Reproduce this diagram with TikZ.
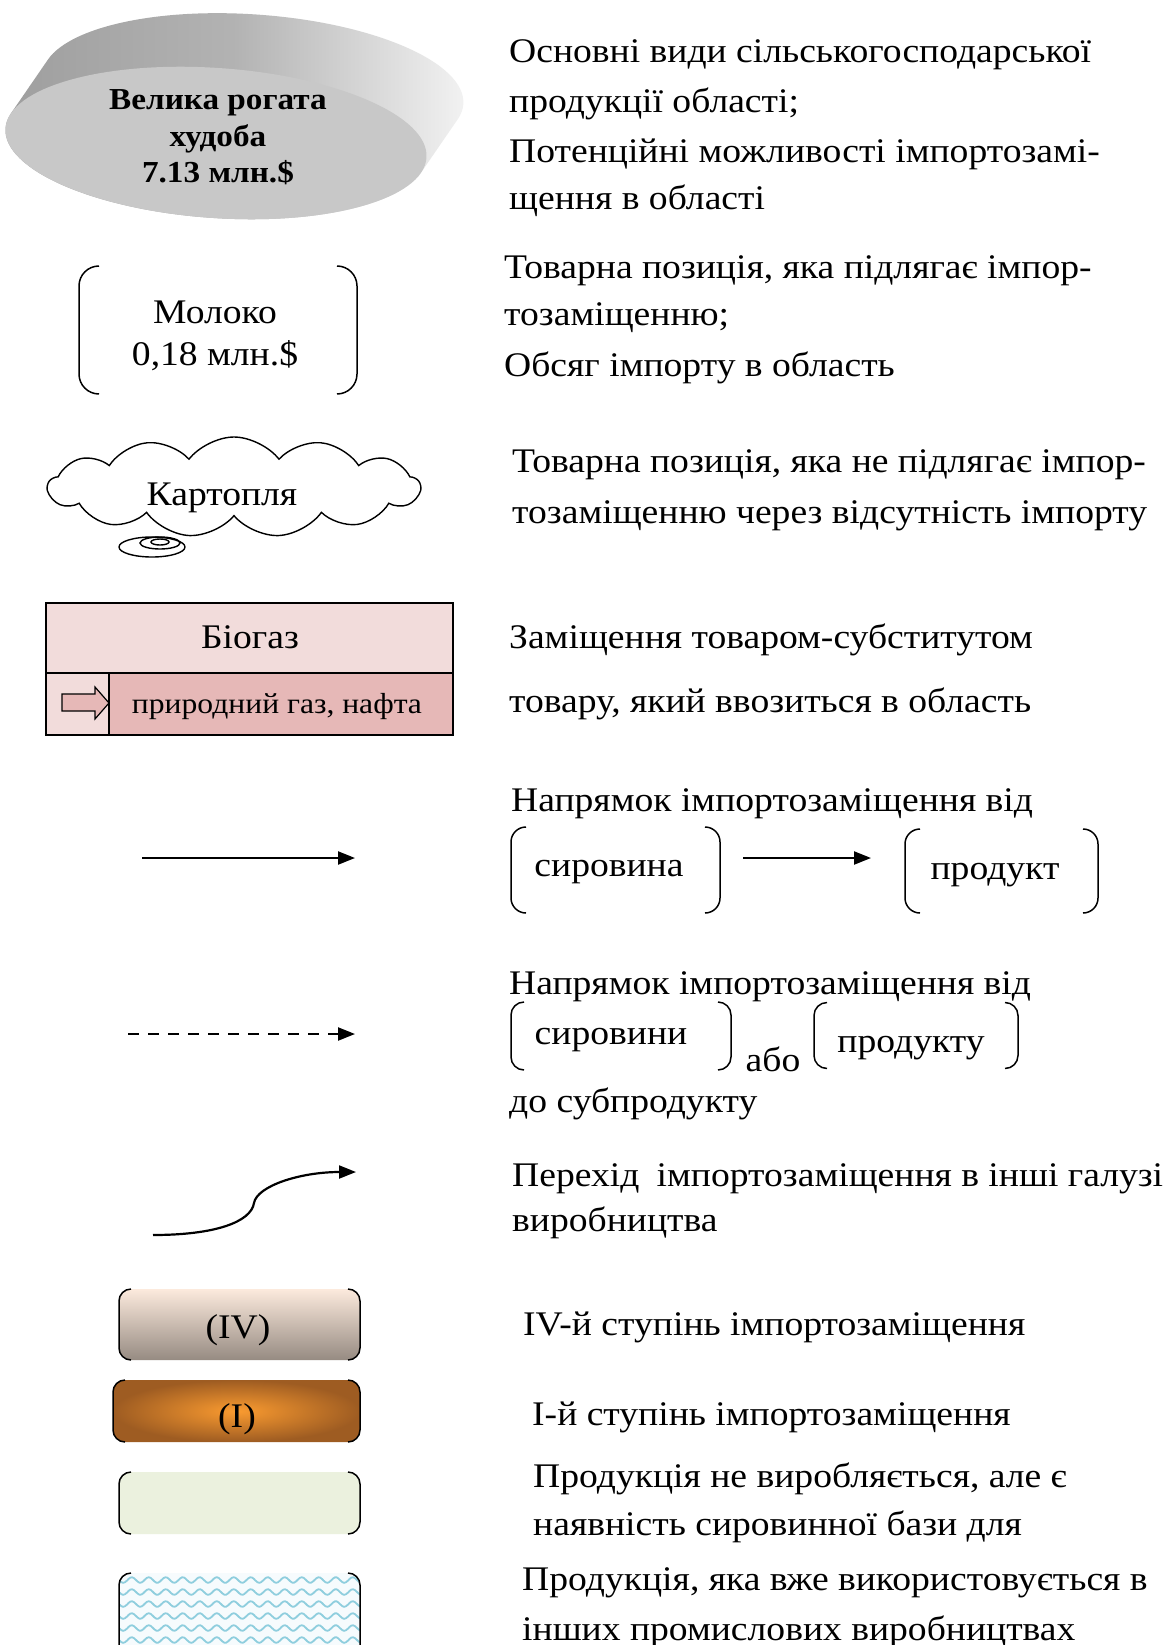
\documentclass[tikz,border=0pt]{standalone}
\usepackage{fontspec}
\setmainfont{Liberation Serif}[FakeStretch=1.09]
\usetikzlibrary{arrows.meta,shapes.symbols,calc}
\definecolor{discfront}{RGB}{200,200,200}
\definecolor{biotop}{RGB}{242,220,219}
\definecolor{biobot}{RGB}{230,184,183}
\definecolor{ivtop}{RGB}{252,234,221}
\definecolor{ivbot}{RGB}{150,139,130}
\definecolor{iin}{RGB}{250,155,48}
\definecolor{iout}{RGB}{158,92,34}
\definecolor{greenfill}{RGB}{235,241,222}
\definecolor{wavebg}{RGB}{246,251,253}
\definecolor{waveline}{RGB}{143,206,222}
\newcommand\bpair[2]{%
  \draw[bk, rounded corners=#2] ([xshift=#2]#1.north west) -- (#1.north west) -- (#1.south west) -- ([xshift=#2]#1.south west);
  \draw[bk, rounded corners=#2] ([xshift=-#2]#1.north east) -- (#1.north east) -- (#1.south east) -- ([xshift=-#2]#1.south east);}
\begin{document}
\begin{tikzpicture}[x=1pt,y=-1pt,
  txt/.style={anchor=base west, inner sep=0pt, font=\fontsize{34.5}{40}\selectfont},
  ctxt/.style={anchor=base, inner sep=0pt, font=\fontsize{34.5}{40}\selectfont},
  btxt/.style={anchor=base, inner sep=0pt, font=\fontsize{30.5}{37}\selectfont\bfseries},
  stxt/.style={anchor=base, inner sep=0pt, font=\fontsize{29}{35}\selectfont},
  frame/.style={rectangle, inner sep=0pt, outer sep=0pt},
  bk/.style={line width=1.5pt, black},
  arr/.style={line width=2.2pt, -{Triangle[length=17pt,width=13pt]}},
]
\useasboundingbox (0,0) rectangle (1165,1645);
\fill[white] (0,0) rectangle (1165,1645);

% ---- disc
\begin{scope}[rotate around={-4:(216,143)}]
\shade[left color=black!38, right color=black!5, middle color=black!30]
  \foreach \i in {0,...,24} { ({249-33*\i/24},{87+56*\i/24}) ellipse [x radius=211, y radius=75] };
\fill[discfront] (216,143) ellipse [x radius=211, y radius=75];
\end{scope}
\node[btxt] (krs1) at (218,110) {Велика рогата};
\node[btxt] (krs2) at (218,147) {худоба};
\node[btxt] (krs3) at (218,183) {7.13 млн.\$};

% ---- milk
\node[frame, minimum width=278pt, minimum height=128pt] (mol) at (218,330) {};
\bpair{mol}{20pt}
\node[ctxt] (mol1) at (215,323) {Молоко};
\node[ctxt] (mol2) at (215,365) {0,18 млн.\$};

% ---- cloud
\node[cloud, draw, line width=1.4pt, fill=white, cloud puffs=13, cloud puff arc=105, aspect=3.6,
      minimum width=372pt, minimum height=100pt, inner sep=0pt] (kart) at (234,487) {};
\draw[line width=1.4pt, fill=white] (152,547) ellipse [x radius=33, y radius=10];
\draw[line width=1.4pt] (160,543) ellipse [x radius=20, y radius=6];
\draw[line width=1.4pt] (160,542) ellipse [x radius=9, y radius=3];
\node[ctxt] (kartt) at (222,505) {Картопля};

% ---- biogas table
\fill[biotop] (46,603) rectangle (453,673);
\fill[biotop] (46,673) rectangle (109,735);
\fill[biobot] (109,673) rectangle (453,735);
\draw[line width=2pt] (46,603) rectangle (453,735);
\draw[line width=2pt] (46,673) -- (453,673);
\draw[line width=1.3pt] (109,673) -- (109,735);
\draw[line width=1.2pt, fill=biobot] (62,694) -- (95,694) -- (95,687) -- (109,703) -- (95,719) -- (95,711) -- (62,711) -- cycle;
\node[ctxt] (bio) at (250,648) {Біогаз};
\node[stxt] (gas) at (277,713) {природний газ, нафта};

% ---- arrows legend
\coordinate (s1) at (142,858); \coordinate (e1) at (355,858);
\draw[arr] (s1) -- (e1);
\coordinate (s2) at (128,1034); \coordinate (e2) at (355,1034);
\draw[arr, dash pattern=on 11pt off 9pt] (s2) -- (e2);
\coordinate (s3) at (153,1235); \coordinate (m3) at (254,1203); \coordinate (e3) at (356,1172);
\draw[arr] (s3) .. controls (215,1235) and (251,1222) .. (m3) .. controls (257,1186) and (300,1172) .. (e3);

% ---- stage boxes
\node[frame, rounded corners=12pt, top color=ivtop, bottom color=ivbot, minimum width=241pt, minimum height=71pt] (iv) at (239.5,1324.5) {};
\bpair{iv}{12pt}
\node[ctxt] (ivt) at (238,1338) {(IV)};
\node[frame, rounded corners=12pt, inner color=iin, outer color=iout, minimum width=247pt, minimum height=62pt] (one) at (236.5,1411) {};
\bpair{one}{12pt}
\node[ctxt] (onet) at (237,1427) {(I)};
\node[frame, rounded corners=12pt, fill=greenfill, minimum width=241pt, minimum height=62pt] (grn) at (239.5,1503) {};
\bpair{grn}{12pt}
\begin{scope}
\clip[rounded corners=12pt] (119,1573) rectangle (360,1680);
\fill[wavebg] (119,1573) rectangle (360,1680);
\foreach \r in {0,...,7} {
  \draw[waveline, line width=1.8pt] plot[domain=112:368, samples=140, smooth] (\x,{1580+12*\r+2.8*sin((\x/17)*360)});
}
\end{scope}
\node[frame, minimum width=241pt, minimum height=90pt] (wav) at (239.5,1618) {};
\bpair{wav}{12pt}

% ---- right column texts
\node[txt] (t1a) at (509,63) {Основні види сільськогосподарської};
\node[txt] (t1b) at (509,113) {продукції області;};
\node[txt] (t1c) at (509,163) {Потенційні можливості імпортозамі-};
\node[txt] (t1d) at (509,210) {щення в області};
\node[txt] (t2a) at (504,278) {Товарна позиція, яка підлягає імпор-};
\node[txt] (t2b) at (504,325) {тозаміщенню;};
\node[txt] (t2c) at (504,376) {Обсяг імпорту в область};
\node[txt] (t3a) at (512,472) {Товарна позиція, яка не підлягає імпор-};
\node[txt] (t3b) at (512,523) {тозаміщенню через відсутність імпорту};
\node[txt] (t4a) at (509,648) {Заміщення товаром-субститутом};
\node[txt] (t4b) at (509,712) {товару, який ввозиться в область};
\node[txt] (t5) at (511,811) {Напрямок імпортозаміщення від};

\node[frame, minimum width=209pt, minimum height=86pt] (syr) at (615.5,870) {};
\bpair{syr}{15pt}
\node[ctxt] (syrt) at (609,876) {сировина};
\node[frame, minimum width=193pt, minimum height=84pt] (prd) at (1001.5,871) {};
\bpair{prd}{15pt}
\node[ctxt] (prdt) at (995,879) {продукт};
\draw[arr] ([xshift=23pt, yshift=12pt]syr.east) -- ([xshift=-34pt, yshift=13pt]prd.west);

\node[txt] (t6) at (509,994) {Напрямок імпортозаміщення від};
\node[frame, minimum width=220pt, minimum height=68pt] (syr2) at (621,1036) {};
\bpair{syr2}{13pt}
\node[ctxt] (syr2t) at (611,1044) {сировини};
\node[ctxt] (abo) at (773,1071) {або};
\node[frame, minimum width=204pt, minimum height=66pt] (prd2) at (916,1035.5) {};
\bpair{prd2}{13pt}
\node[ctxt] (prd2t) at (911,1052) {продукту};
\node[txt] (t6c) at (509,1112) {до субпродукту};

\node[txt] (t7a) at (512,1186) {Перехід\hspace{0.5em}імпортозаміщення в інші галузі};
\node[txt] (t7b) at (512,1231) {виробництва};
\node[txt] (t8) at (523,1335) {IV-й ступінь імпортозаміщення};
\node[txt] (t9) at (532,1425) {І-й ступінь імпортозаміщення};
\node[txt] (t10a) at (533,1487) {Продукція не виробляється, але є};
\node[txt] (t10b) at (533,1535) {наявність сировинної бази для};
\node[txt] (t11a) at (522,1590) {Продукція, яка вже використовується в};
\node[txt] (t11b) at (522,1640) {інших промислових виробництвах};
\end{tikzpicture}
\end{document}
